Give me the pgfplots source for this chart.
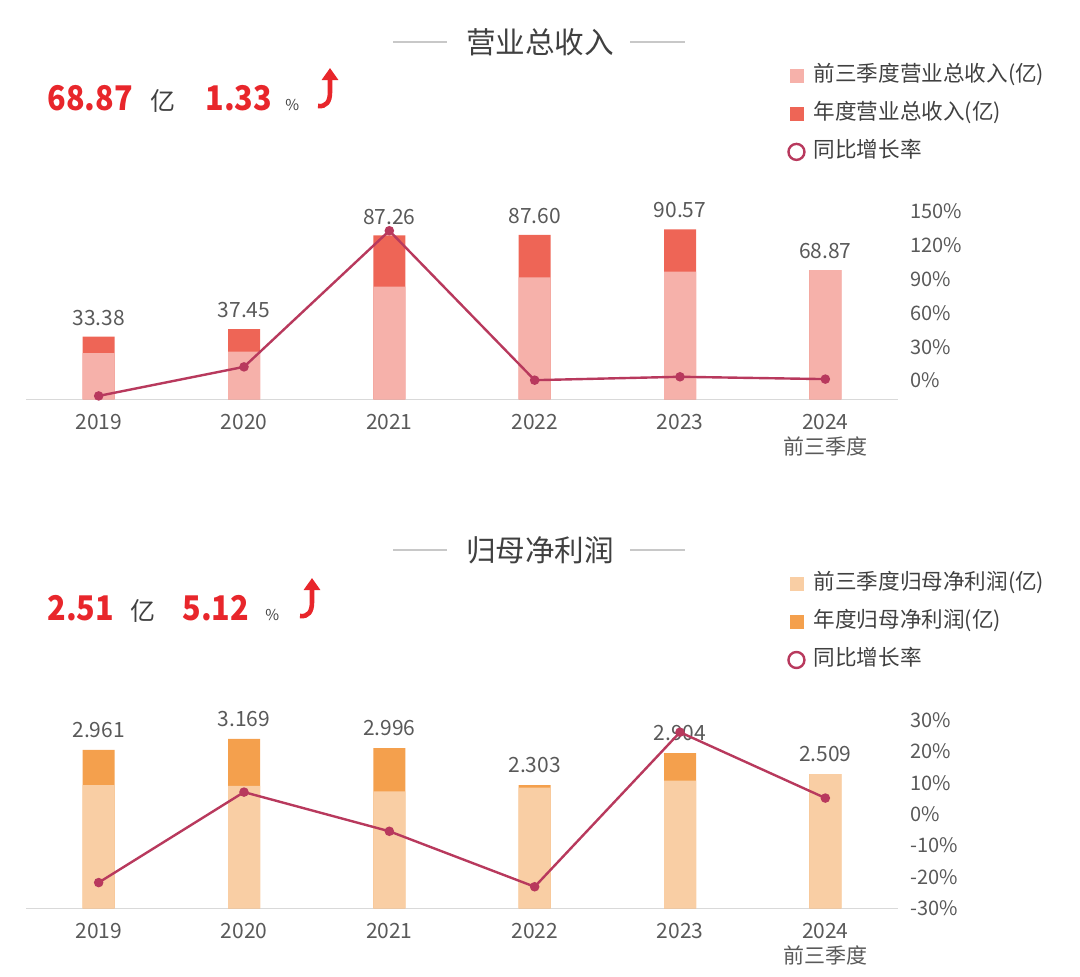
\documentclass[border=0pt]{standalone}
\usepackage{fontspec}
\setmainfont{Noto Sans CJK SC}
\usepackage{pgfplots}
\pgfplotsset{compat=1.18}
\usepackage{pgfplotstable}
\usetikzlibrary{arrows.meta}

\definecolor{revQ}{HTML}{F6B1AA}
\definecolor{revA}{HTML}{EE6556}
\definecolor{proQ}{HTML}{F9CEA4}
\definecolor{proA}{HTML}{F4A04D}
\definecolor{lineC}{HTML}{B8395D}
\definecolor{redT}{HTML}{E8262B}
\definecolor{txt}{HTML}{595959}
\definecolor{ttl}{HTML}{404040}
\definecolor{axl}{HTML}{D9D9D9}
\definecolor{hl}{HTML}{C8C8C8}

\pgfplotstableread{
x q3 total lab g
0 24.6 33.38 33.38 -13.6
1 25.4 37.45 37.45 12.19
2 60.0 87.26 87.26 133.0
3 65.0 87.60 87.60 0.39
4 67.97 90.57 90.57 3.39
5 68.87 68.87 68.87 1.33
}\revtable

\pgfplotstableread{
x q3 total lab g
0 2.306 2.961 2.961 -21.8
1 2.289 3.169 3.169 7.02
2 2.185 2.996 2.996 -5.46
3 2.256 2.303 2.303 -23.13
4 2.387 2.904 2.904 26.10
5 2.509 2.509 2.509 5.12
}\protable

\pgfplotsset{
  base/.style={scale only axis, width=436pt, xmin=-0.5, xmax=5.5, clip=false,
    major tick length=0pt},
  leftax/.style={base, ymin=0, axis x line*=bottom, axis y line=none,
    x axis line style={draw=axl, line width=0.75pt, -},
    xtick={0,1,2,3,4,5},
    xticklabels={2019,2020,2021,2022,2023,{2024\\前三季度}},
    xticklabel style={font=\fontsize{10.5}{12.5}\selectfont, text=txt, align=center,
      inner sep=0pt, anchor=north, yshift=-7.5pt},
    ybar, bar width=16pt},
  rightax/.style={base, axis x line=none, axis y line*=right,
    y axis line style={draw=none},
    yticklabel style={font=\fontsize{10}{12}\selectfont, text=txt, anchor=west,
      inner sep=0pt, xshift=6pt},
    legend cell align=left,
    legend style={draw=none, fill=none, inner sep=0pt, outer sep=0pt,
      row sep=8.5pt, anchor=north west,
      nodes={inner sep=0pt, text height=8pt, text depth=2.5pt,
        font=\fontsize{10.8}{12}\selectfont, text=ttl},
      /tikz/every odd column/.append style={column sep=4pt}}},
  barlab/.style={nodes near coords, point meta=explicit symbolic,
    every node near coord/.append style={font=\fontsize{10.5}{12}\selectfont,
      text=txt, anchor=south, inner sep=0pt, text depth=0pt, yshift=#1}},
}
\newcommand{\bignum}[1]{\scalebox{0.9}[1]{#1}}

\begin{document}
\begin{tikzpicture}
\useasboundingbox (0,0) rectangle (540pt,-488pt);

% ===== Top panel =====
\begin{axis}[leftax, height=99.5pt, at={(13pt,-199.65pt)}, anchor=south west, ymax=106]
\addplot[fill=revA, draw=none, bar shift=0pt, barlab=5.5pt] table[x=x, y=total, meta=lab]{\revtable};
\addplot[fill=revQ, draw=none, bar shift=0pt] table[x=x, y=q3]{\revtable};
\end{axis}

\begin{axis}[rightax, height=99.5pt, at={(13pt,-199.65pt)}, anchor=south west,
  ymin=-16.6, ymax=160,
  ytick={0,30,60,90,120,150},
  yticklabels={0\%,30\%,60\%,90\%,120\%,150\%},
  legend style={at={(axis description cs:0.873,1.678)}}]
\addlegendimage{legend image code/.code={\fill[revQ] (-3.25pt,-3.25pt) rectangle (3.25pt,3.25pt);}}
\addlegendentry{前三季度营业总收入(亿)}
\addlegendimage{legend image code/.code={\fill[revA] (-3.25pt,-3.25pt) rectangle (3.25pt,3.25pt);}}
\addlegendentry{年度营业总收入(亿)}
\addplot[lineC, line width=1.2pt, mark=*, mark size=1.75pt,
  legend image code/.code={\draw[lineC, line width=1.2pt] (0,0) circle (4pt);}]
  table[x=x, y=g]{\revtable};
\addlegendentry{同比增长率}
\end{axis}

% ===== Bottom panel =====
\begin{axis}[leftax, height=103.6pt, at={(13pt,-454.15pt)}, anchor=south west, ymax=3.875]
\addplot[fill=proA, draw=none, bar shift=0pt, barlab=6pt] table[x=x, y=total, meta=lab]{\protable};
\addplot[fill=proQ, draw=none, bar shift=0pt] table[x=x, y=q3]{\protable};
\end{axis}

\begin{axis}[rightax, height=103.6pt, at={(13pt,-454.15pt)}, anchor=south west,
  ymin=-30, ymax=36,
  ytick={-30,-20,-10,0,10,20,30},
  yticklabels={-30\%,-20\%,-10\%,0\%,10\%,20\%,30\%},
  legend style={at={(axis description cs:0.873,1.616)}}]
\addlegendimage{legend image code/.code={\fill[proQ] (-3.25pt,-3.25pt) rectangle (3.25pt,3.25pt);}}
\addlegendentry{前三季度归母净利润(亿)}
\addlegendimage{legend image code/.code={\fill[proA] (-3.25pt,-3.25pt) rectangle (3.25pt,3.25pt);}}
\addlegendentry{年度归母净利润(亿)}
\addplot[lineC, line width=1.2pt, mark=*, mark size=1.75pt,
  legend image code/.code={\draw[lineC, line width=1.2pt] (0,0) circle (4pt);}]
  table[x=x, y=g]{\protable};
\addlegendentry{同比增长率}
\end{axis}

% ===== Headers =====
\node[font=\fontsize{14.8}{16}\selectfont, text=ttl] at (270pt,-21pt) {营业总收入};
\draw[hl, line width=0.6pt] (196.5pt,-21pt) -- (223.5pt,-21pt);
\draw[hl, line width=0.6pt] (315pt,-21pt) -- (342.5pt,-21pt);
\node[anchor=base west, inner sep=0pt, font=\fontsize{17}{18}\selectfont\bfseries, text=redT] at (23.5pt,-55pt) {\bignum{68.87}};
\node[anchor=base west, inner sep=0pt, font=\fontsize{12.5}{14}\selectfont, text=ttl] at (75pt,-55pt) {亿};
\node[anchor=base west, inner sep=0pt, font=\fontsize{17}{18}\selectfont\bfseries, text=redT] at (102.5pt,-55pt) {\bignum{1.33}};
\node[anchor=base west, inner sep=0pt, font=\fontsize{7.5}{9}\selectfont, text=ttl] at (142.5pt,-55pt) {\%};
\draw[redT, line width=2.3pt, -{Triangle[width=8pt,length=6pt]}] (159pt,-53pt) .. controls (163pt,-53.5pt) and (165pt,-51pt) .. (165pt,-46pt) -- (165pt,-34pt);

\node[font=\fontsize{14.8}{16}\selectfont, text=ttl] at (270pt,-275pt) {归母净利润};
\draw[hl, line width=0.6pt] (196.5pt,-275pt) -- (223.5pt,-275pt);
\draw[hl, line width=0.6pt] (315pt,-275pt) -- (342.5pt,-275pt);
\node[anchor=base west, inner sep=0pt, font=\fontsize{17}{18}\selectfont\bfseries, text=redT] at (23.5pt,-310pt) {\bignum{2.51}};
\node[anchor=base west, inner sep=0pt, font=\fontsize{12.5}{14}\selectfont, text=ttl] at (65pt,-310pt) {亿};
\node[anchor=base west, inner sep=0pt, font=\fontsize{17}{18}\selectfont\bfseries, text=redT] at (91pt,-310pt) {\bignum{5.12}};
\node[anchor=base west, inner sep=0pt, font=\fontsize{7.5}{9}\selectfont, text=ttl] at (132.5pt,-310pt) {\%};
\draw[redT, line width=2.3pt, -{Triangle[width=8pt,length=6pt]}] (150pt,-308pt) .. controls (154pt,-308.5pt) and (156pt,-306pt) .. (156pt,-301pt) -- (156pt,-289pt);
\end{tikzpicture}
\end{document}
